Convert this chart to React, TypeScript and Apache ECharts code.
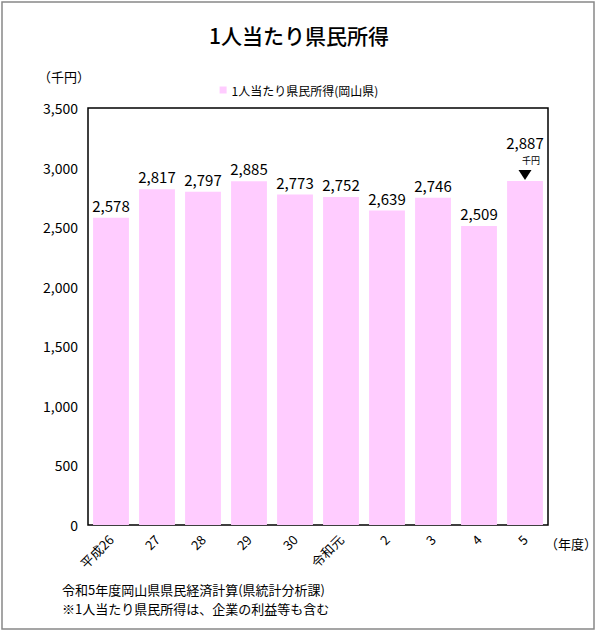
import { useEffect, useRef } from 'react';
import * as echarts from 'echarts';

const years = ['平成26', '27', '28', '29', '30', '令和元', '2', '3', '4', '5'];
const income = [2578, 2817, 2797, 2885, 2773, 2752, 2639, 2746, 2509, 2887];
const seriesName = '1人当たり県民所得(岡山県)';
const notes = ['令和5年度岡山県県民経済計算(県統計分析課)', '※1人当たり県民所得は、企業の利益等も含む'];

const font = '"Noto Sans CJK JP", sans-serif';
const fmt = (v: number) => Number(v).toLocaleString('en-US');

export default function App() {
    const chartRef = useRef(null);

    useEffect(() => {
        document.body.style.margin = '0';
        const myChart = echarts.init(chartRef.current, null, { renderer: 'svg' });

        const last = income.length - 1;

        myChart.setOption({
            animation: false,
            textStyle: { fontFamily: font },
            title: {
                left: 'center',
                top: 19,
                text: '1人当たり県民所得',
                textStyle: { fontSize: 21, fontWeight: 500, color: '#000', fontFamily: font },
            },
            legend: {
                top: 79,
                left: 'center',
                itemWidth: 7,
                itemHeight: 7,
                itemGap: 4,
                icon: 'rect',
                textStyle: { fontSize: 12, color: '#000', fontFamily: font },
                data: [seriesName],
            },
            grid: { left: 88, right: 50, top: 108, bottom: 107, show: true, borderColor: '#000', borderWidth: 1.5 },
            xAxis: {
                type: 'category',
                data: years,
                axisLine: { show: false },
                axisTick: { show: false },
                axisLabel: { rotate: 45, fontSize: 13, color: '#000', margin: 12, fontFamily: font },
            },
            yAxis: {
                type: 'value',
                min: 0,
                max: 3500,
                interval: 500,
                splitLine: { show: false },
                axisLine: { show: false },
                axisTick: { show: false },
                axisLabel: {
                    fontSize: 14,
                    color: '#000',
                    margin: 10,
                    fontFamily: font,
                    formatter: fmt,
                },
            },
            series: [
                {
                    name: seriesName,
                    type: 'bar',
                    barCategoryGap: '22%',
                    itemStyle: { color: '#FFCCFF' },
                    data: income.map((v, i) => (i === last ? { value: v, label: { distance: 31 } } : v)),
                    label: {
                        show: true,
                        position: 'top',
                        distance: 5,
                        fontSize: 15,
                        fontWeight: 'normal',
                        color: '#000',
                        fontFamily: font,
                        formatter: (p: any) => fmt(p.value),
                    },
                    markPoint: {
                        silent: true,
                        symbol: 'triangle',
                        symbolRotate: 180,
                        symbolSize: [13, 10],
                        symbolOffset: [0, -6],
                        itemStyle: { color: '#000' },
                        label: {
                            show: true,
                            position: 'top',
                            distance: 5,
                            offset: [6, 0],
                            formatter: '千円',
                            fontSize: 9,
                            color: '#000',
                            fontFamily: font,
                        },
                        data: [{ coord: [years[last], income[last]] }],
                    },
                },
            ],
            graphic: [
                {
                    type: 'rect',
                    shape: { x: 2, y: 2, width: 592, height: 627 },
                    style: { fill: 'none', stroke: '#888', lineWidth: 1.5 },
                },
                {
                    type: 'text',
                    left: 38,
                    top: 70,
                    style: { text: '（千円）', fill: '#000', font: `13px ${font}` },
                },
                {
                    type: 'text',
                    left: 545,
                    top: 537,
                    style: { text: '（年度）', fill: '#000', font: `13px ${font}` },
                },
                {
                    type: 'text',
                    left: 62,
                    top: 580,
                    style: { text: notes.join('\n'), fill: '#000', font: `13px ${font}`, lineHeight: 19 },
                },
            ],
        });

        return () => {
            myChart.dispose();
        };
    }, []);

    return <div ref={chartRef} style={{ width: '598px', height: '632px' }} />;
}
